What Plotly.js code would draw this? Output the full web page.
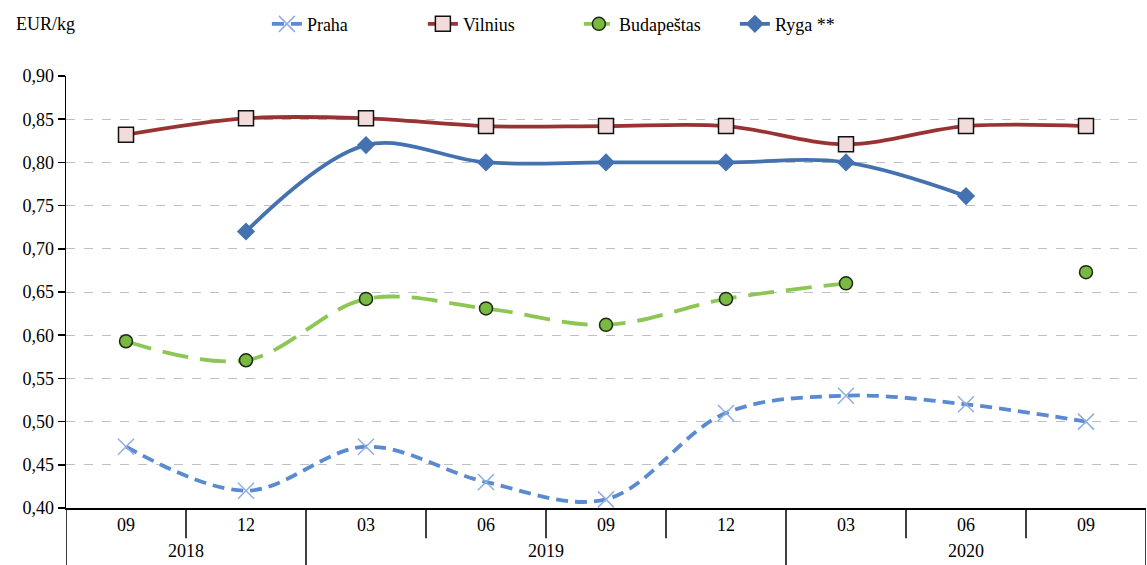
<!DOCTYPE html>
<html>
<head>
<meta charset="utf-8">
<script src="https://cdn.plot.ly/plotly-3.0.1.min.js"></script>
<style>html,body{margin:0;padding:0;background:#fff;}#chart{width:1147px;height:565px;}</style>
</head>
<body>
<div id="chart"></div>
<script>
const years = ["2018", "2018", "2019", "2019", "2019", "2019", "2020", "2020", "2020"];
const months = ["09", "12", "03", "06", "09", "12", "03", "06", "09"];
const praha = [0.471, 0.42, 0.471, 0.43, 0.41, 0.51, 0.53, 0.52, 0.50];
const vilnius = [0.832, 0.851, 0.851, 0.842, 0.842, 0.842, 0.821, 0.842, 0.842];
const budapestas = [0.593, 0.571, 0.642, 0.631, 0.612, 0.642, 0.66, null, 0.673];
const ryga = [null, 0.72, 0.82, 0.80, 0.80, 0.80, 0.80, 0.761, null];
const yTicks = [0.40, 0.45, 0.50, 0.55, 0.60, 0.65, 0.70, 0.75, 0.80, 0.85, 0.90];

const font = "Liberation Serif, Times New Roman, serif";
const idx = months.map((m, i) => i);

// boundaries between categories; year groups
const boundaries = idx.slice(1).map(i => i - 0.5);
const yearGroups = [];
years.forEach((y, i) => {
  const g = yearGroups.find(e => e.year === y);
  if (g) g.last = i; else yearGroups.push({year: y, first: i, last: i});
});

const traces = [
  {name: "Praha", x: idx, y: praha, mode: "lines+markers",
   line: {color: "#5a8ad0", width: 3.8, dash: "12px,7px", shape: "spline", smoothing: 1},
   marker: {symbol: "x-thin", size: 16, color: "#a4bfe6", line: {color: "#8eaee0", width: 1.5}}},
  {name: "Vilnius", x: idx, y: vilnius, mode: "lines+markers",
   line: {color: "#993333", width: 3.8, shape: "spline", smoothing: 1},
   marker: {symbol: "square", size: 15, color: "#f2dcdb", line: {color: "#111", width: 1.5}}},
  {name: "Budapeštas", x: idx, y: budapestas, mode: "lines+markers", connectgaps: false,
   line: {color: "#8cc653", width: 3.8, dash: "26px,12px", shape: "spline", smoothing: 1},
   marker: {symbol: "circle", size: 13, color: "#78b843", line: {color: "#1d2a10", width: 1.5}}},
  {name: "Ryga **", x: idx, y: ryga, mode: "lines+markers",
   line: {color: "#4472b0", width: 3.8, shape: "spline", smoothing: 1},
   marker: {symbol: "diamond", size: 14, color: "#4472b0"}}
];

const shapes = [];
boundaries.forEach(b => {
  const isYear = years[b - 0.5] !== years[b + 0.5];
  shapes.push({type: "line", xref: "x", yref: "paper", x0: b, x1: b, y0: 0,
               y1: isYear ? -0.135 : -0.07, line: {color: "#000", width: 1.5}});
});
[-0.5, months.length - 0.5].forEach(b => {
  shapes.push({type: "line", xref: "x", yref: "paper", x0: b, x1: b, y0: 0, y1: -0.135,
               line: {color: "#000", width: 1.5}});
});

const annotations = [{text: "EUR/kg", xref: "paper", yref: "paper", x: -0.048, y: 1.12,
                 xanchor: "left", yanchor: "middle", showarrow: false,
                 font: {family: font, size: 18}}];
yearGroups.forEach(g => {
  annotations.push({text: g.year, xref: "x", yref: "paper", x: (g.first + g.last) / 2, y: -0.1,
                    xanchor: "center", yanchor: "middle", showarrow: false,
                    font: {family: font, size: 18}});
});

const layout = {
  width: 1147, height: 565,
  margin: {l: 66, r: 1, t: 76, b: 57},
  paper_bgcolor: "#fff", plot_bgcolor: "#fff",
  separators: ", ",
  font: {family: font, size: 18, color: "#000"},
  showlegend: true,
  legend: {orientation: "h", x: 0.186, xanchor: "left", y: 1.12, yanchor: "middle",
           font: {family: font, size: 18}, entrywidth: 111, entrywidthmode: "pixels",
           tracegroupgap: 0},
  xaxis: {type: "linear", range: [-0.5, months.length - 0.5], tickvals: idx, ticktext: months,
          showline: true, linecolor: "#000", linewidth: 1.5, ticks: "", showgrid: false,
          zeroline: false, tickfont: {family: font, size: 18}, ticklabelstandoff: 0},
  yaxis: {range: [0.40, 0.90], tickvals: yTicks, tickformat: ".2f",
          showline: true, linecolor: "#000", linewidth: 1.5,
          ticks: "outside", ticklen: 7, tickcolor: "#000", tickwidth: 1.5,
          showgrid: true, gridcolor: "#c0c0c0", griddash: "dash", gridwidth: 1,
          zeroline: false, tickfont: {family: font, size: 18}},
  shapes: shapes,
  annotations: annotations
};

Plotly.newPlot("chart", traces, layout, {displayModeBar: false, staticPlot: true});
</script>
</body>
</html>
